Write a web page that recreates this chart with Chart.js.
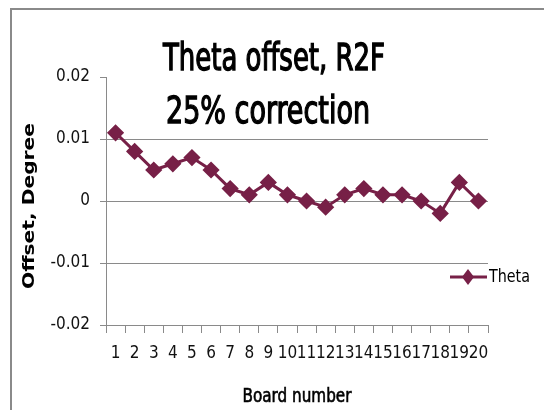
<!DOCTYPE html>
<html>
<head>
<meta charset="utf-8">
<script src="https://cdn.jsdelivr.net/npm/chart.js@4"></script>
<style>
  body { margin: 0; background: #fff; }
  canvas { display: block; }
</style>
</head>
<body>
<canvas id="thetaChart" width="544" height="410"></canvas>
<script>
//Chart data
const boards = ['1','2','3','4','5','6','7','8','9','10','11','12','13','14','15','16','17','18','19','20'];
const theta = [0.011, 0.008, 0.005, 0.006, 0.007, 0.005, 0.002, 0.001, 0.003, 0.001,
               0.000, -0.001, 0.001, 0.002, 0.001, 0.001, 0.000, -0.002, 0.003, 0.000];
const yTicks = [-0.02, -0.01, 0, 0.01, 0.02];
const yTickLabels = ['-0.02', '-0.01', '0', '0.01', '0.02'];
const titleLines = ['Theta offset, R2F', '25% correction'];
const yTitle = 'Offset, Degree';
const xTitle = 'Board number';

const FONT = "'Liberation Sans Narrow', 'DejaVu Sans Condensed', 'Liberation Sans', sans-serif";
const MAROON = '#772047';
const GREY = '#8a8a8a';

//Draw text fitted to a given width (squeezed or stretched), at x,y with optional rotation
//weight > 0 adds a thin outline so the text looks a bit heavier
function fitText(ctx, text, x, y, width, angle, weight) {
    const w = ctx.measureText(text).width;
    ctx.save();
    ctx.translate(x, y);
    if (angle) ctx.rotate(angle);
    ctx.scale(width / w, 1);
    ctx.fillText(text, 0, 0);
    if (weight) {
        ctx.lineWidth = weight;
        ctx.strokeStyle = ctx.fillStyle;
        ctx.strokeText(text, 0, 0);
    }
    ctx.restore();
}

//Outer frame, titles and legend drawn on the canvas
const decorations = {
    id: 'decorations',
    beforeDraw(chart) {
        const ctx = chart.ctx;
        ctx.save();
        ctx.strokeStyle = GREY;
        ctx.lineWidth = 2;
        ctx.beginPath();
        ctx.moveTo(11, 412);
        ctx.lineTo(11, 9);
        ctx.lineTo(546, 9);
        ctx.stroke();
        ctx.restore();
    },
    afterDraw(chart) {
        const ctx = chart.ctx;
        ctx.save();
        ctx.fillStyle = '#000';
        ctx.textAlign = 'center';
        ctx.textBaseline = 'alphabetic';
        ctx.font = '37px ' + FONT;
        fitText(ctx, titleLines[0], 274, 70, 222, 0, 1.3);
        fitText(ctx, titleLines[1], 268, 123, 204, 0, 1.3);

        //y axis title
        ctx.textBaseline = 'middle';
        ctx.font = 'bold 16px "DejaVu Sans", sans-serif';
        fitText(ctx, yTitle, 30, 206, 166, -Math.PI / 2);

        //x axis title
        ctx.font = '20px ' + FONT;
        fitText(ctx, xTitle, 297, 397, 109, 0, 0.6);

        //legend
        const ly = 277;
        ctx.strokeStyle = MAROON;
        ctx.fillStyle = MAROON;
        ctx.lineWidth = 3;
        ctx.beginPath();
        ctx.moveTo(450, ly);
        ctx.lineTo(487, ly);
        ctx.stroke();
        ctx.beginPath();
        ctx.moveTo(468, ly - 8);
        ctx.lineTo(474, ly);
        ctx.lineTo(468, ly + 8);
        ctx.lineTo(462, ly);
        ctx.closePath();
        ctx.fill();
        ctx.fillStyle = '#000';
        ctx.textAlign = 'left';
        ctx.font = '17px ' + FONT;
        fitText(ctx, chart.data.datasets[0].label, 489, ly + 1, 41);
        ctx.restore();
    }
};

new Chart(document.getElementById('thetaChart'), {
    type: 'line',
    data: {
        labels: boards,
        datasets: [{
            label: 'Theta',
            data: theta,
            borderColor: MAROON,
            backgroundColor: MAROON,
            borderWidth: 3,
            pointStyle: 'rectRot',
            pointRadius: 6.5,
            pointHoverRadius: 6.5,
            tension: 0
        }]
    },
    options: {
        responsive: false,
        animation: false,
        devicePixelRatio: 1,
        layout: { padding: { left: 0, top: 77, right: 56, bottom: 0 } },
        plugins: {
            legend: { display: false },
            title: { display: false },
            tooltip: { enabled: false }
        },
        scales: {
            x: {
                offset: true,
                afterFit(scale) { scale.height = 85; },
                grid: {
                    offset: true,
                    drawOnChartArea: false,
                    tickLength: 8,
                    color: GREY
                },
                border: { color: GREY, width: 1 },
                ticks: {
                    autoSkip: false,
                    maxRotation: 0,
                    padding: 10,
                    color: '#111',
                    font: { family: FONT, size: 17 }
                }
            },
            y: {
                min: -0.02,
                max: 0.02,
                afterFit(scale) { scale.width = 106; },
                afterBuildTicks(scale) { scale.ticks = yTicks.map(v => ({ value: v })); },
                grid: {
                    tickLength: 6,
                    tickColor: GREY,
                    color: ctx => (ctx.tick && ctx.tick.value === 0.02) ? 'rgba(0,0,0,0)' : GREY
                },
                border: { color: GREY, width: 1 },
                ticks: {
                    padding: 10,
                    color: '#111',
                    font: { family: FONT, size: 17 },
                    callback: (value) => yTickLabels[yTicks.indexOf(value)]
                }
            }
        }
    },
    plugins: [decorations]
});
</script>
</body>
</html>
